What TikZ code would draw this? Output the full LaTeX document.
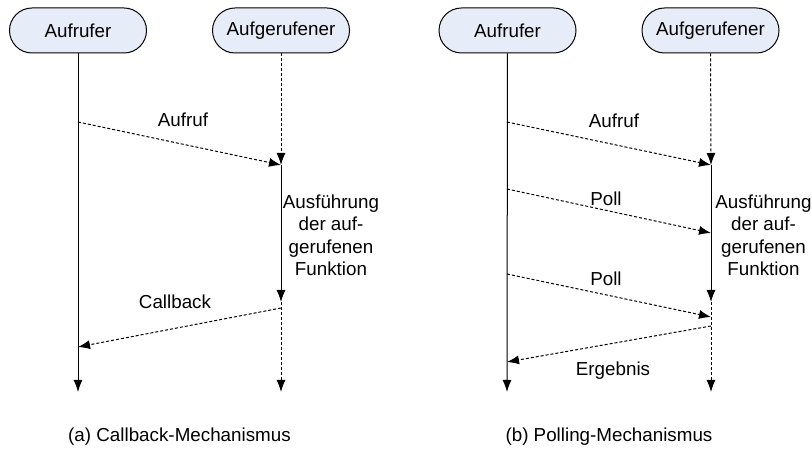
\documentclass[tikz,border=0pt]{standalone}
\usepackage{fontspec}
\setmainfont{Liberation Sans}
\usetikzlibrary{arrows.meta}
\definecolor{actorfill}{RGB}{231,237,248}

\begin{document}
\begin{tikzpicture}[
  x=0.5bp, y=-0.5bp,
  font=\fontsize{9.4bp}{11.25bp}\selectfont,
  actor/.style={draw, rounded corners=11.25bp, fill=actorfill, line width=0.5bp,
                minimum width=68.5bp, minimum height=22.5bp, inner sep=0pt},
  life/.style={line width=0.5bp, -{Latex[length=6bp,width=4.5bp]}},
  idle/.style={life, dash pattern=on 1.5bp off 1bp},
  msg/.style={idle},
  lab/.style={anchor=base, inner sep=0pt},
  work/.style={align=center, anchor=north, inner sep=0pt}
]
\useasboundingbox (0,0) rectangle (812,450);

% ---------------- (a) callback ----------------
\node[actor] (callerA) at (78,30.5) {Aufrufer};
\node[actor] (calleeA) at (281,30.5) {Aufgerufener};

\coordinate (cA1) at (78,122);
\coordinate (cA2) at (78,347);
\coordinate (cAend) at (78,392);
\coordinate (eA1) at (281,165);
\coordinate (eA2) at (281,302);
\coordinate (eA3) at (281,308);
\coordinate (eAend) at (281,392);

\draw[life] (callerA) -- (cAend);
\draw[idle] (calleeA) -- (eA1);
\draw[life] (eA1) -- (eA2);
\draw[idle] (eA2) -- (eAend);

\draw[msg] (cA1) -- (eA1);
\draw[msg] (eA3) -- (cA2);

\node[lab] (callA) at (183,127) {Aufruf};
\node[lab] (backA) at (175,309) {Callback};
\node[work] (execA) at (331,194) {Ausführung\\der auf-\\gerufenen\\Funktion};
\node[lab] (capA) at (179.5,442) {(a) Callback-Mechanismus};

% ---------------- (b) polling ----------------
\node[actor] (callerB) at (507.5,30.5) {Aufrufer};
\node[actor] (calleeB) at (710.5,30.5) {Aufgerufener};

\coordinate (cB1) at (507,122);
\coordinate (cB2) at (507,189);
\coordinate (cB3) at (507,274);
\coordinate (cB4) at (507,362);
\coordinate (cBend) at (507,392);
\coordinate (eB1) at (711,165);
\coordinate (eB2) at (711,233);
\coordinate (eB3) at (711,302);
\coordinate (eB4) at (711,317);
\coordinate (eB5) at (711,326);
\coordinate (eBend) at (711,392);

\draw[life] (callerB) -- (cBend);
\draw[idle] (calleeB) -- (eB1);
\draw[life] (eB1) -- (eB3);
\draw[idle] (eB3) -- (eBend);

\draw[msg] (cB1) -- (eB1);
\draw[msg] (cB2) -- (eB2);
\draw[msg] (cB3) -- (eB4);
\draw[msg] (eB5) -- (cB4);

\node[lab] (callB) at (614,128) {Aufruf};
\node[lab] (pollB1) at (606,206) {Poll};
\node[lab] (pollB2) at (606,286) {Poll};
\node[lab] (resB) at (613,376) {Ergebnis};
\node[work] (execB) at (763.5,194) {Ausführung\\der auf-\\gerufenen\\Funktion};
\node[lab] (capB) at (609,442) {(b) Polling-Mechanismus};

\end{tikzpicture}
\end{document}
